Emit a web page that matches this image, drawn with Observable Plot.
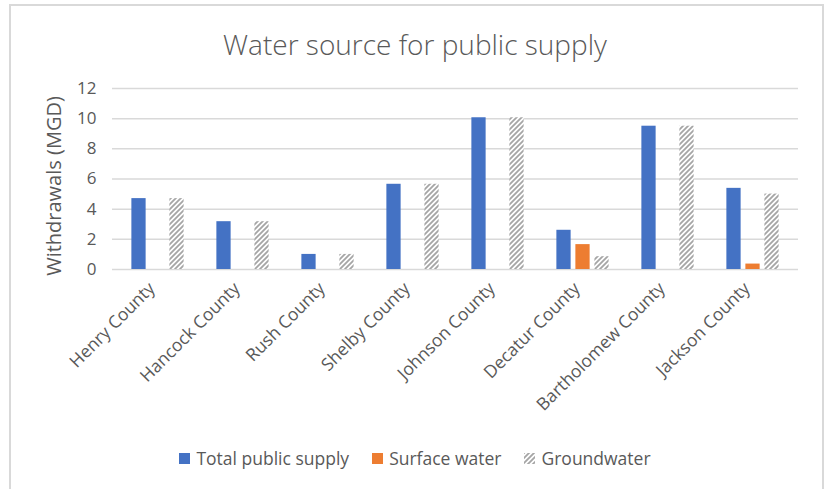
<!DOCTYPE html>
<html><head><meta charset="utf-8">
<script src="https://cdn.jsdelivr.net/npm/d3@7"></script>
<script src="https://cdn.jsdelivr.net/npm/@observablehq/plot@0.6"></script>
<style>
body{margin:0;background:#fff;font-family:"Open Sans",sans-serif;}
#wrap{position:relative;width:830px;height:489px;overflow:hidden;background:#fff;}
#frame{position:absolute;left:9px;top:4px;width:815px;height:520px;border:2px solid #d9d9d9;box-sizing:border-box;}
#title{position:absolute;left:0;width:830px;top:25px;text-align:center;font-size:28px;color:#595959;font-weight:300;line-height:38px;}
#chart{position:absolute;left:0;top:0;}
#legend{position:absolute;top:446px;left:0;width:830px;display:flex;justify-content:center;align-items:center;font-size:17.5px;color:#595959;line-height:24px;}
.item{display:flex;align-items:center;margin:0 11.5px;}
.sw{width:11px;height:11px;margin-right:6px;display:inline-block;}
#defs{position:absolute;width:0;height:0;}
</style></head>
<body>
<svg id="defs" width="0" height="0"><defs>
<pattern id="hatch" patternUnits="userSpaceOnUse" width="5" height="5">
<rect width="5" height="5" fill="#fff"/>
<path d="M-1,1 l2,-2 M0,5 l5,-5 M4,6 l2,-2" stroke="#a5a5a5" stroke-width="1.8"/>
</pattern></defs></svg>
<div id="wrap">
<div id="frame"></div>
<div id="title">Water source for public supply</div>
<div id="chart"></div>
<div id="legend"></div>
</div>
<script>
const counties = ["Henry County", "Hancock County", "Rush County", "Shelby County", "Johnson County", "Decatur County", "Bartholomew County", "Jackson County"];
const seriesNames = ["Total public supply", "Surface water", "Groundwater"];
const totalSupply = [4.7, 3.17, 1.0, 5.65, 10.06, 2.6, 9.5, 5.38];
const surfaceWater = [0, 0, 0, 0, 0, 1.65, 0, 0.36];
const groundwater = [4.7, 3.17, 1.0, 5.65, 10.06, 0.85, 9.5, 5.0];
const yTicks = [0, 2, 4, 6, 8, 10, 12];
const seriesColors = ["#4472C4", "#ED7D31", "url(#hatch)"];

const seriesValues = [totalSupply, surfaceWater, groundwater];
const rows = [];
counties.forEach((c, i) => seriesNames.forEach((s, j) => rows.push({county: c, series: s, value: seriesValues[j][i]})));

const barW = 15, step = 19;
const plot = Plot.plot({
  width: 830, height: 430,
  marginLeft: 112, marginRight: 32, marginTop: 88, marginBottom: 161,
  style: {fontFamily: "Open Sans", fontSize: "16px", color: "#595959", background: "transparent"},
  x: {domain: counties, padding: 0, label: null},
  y: {domain: [0, 12], label: null},
  marks: [
    Plot.gridY(yTicks, {stroke: "#d9d9d9", strokeOpacity: 1, strokeWidth: 1.5}),
    ...seriesNames.map((s, j) => Plot.barY(rows.filter(d => d.series === s && d.value > 0), {
      x: "county", y: "value", fill: seriesColors[j],
      insetLeft: (85.75 - barW) / 2, insetRight: (85.75 - barW) / 2, dx: (j - 1) * step
    })),
    Plot.axisX({tickRotate: -45, tickSize: 0, tickPadding: 10, dx: -6, dy: 6, fontSize: 17.5, fill: "#595959"}),
    Plot.axisY(yTicks, {tickSize: 0, tickPadding: 16, fontSize: 17, fill: "#595959", label: null}),
    Plot.text(["Withdrawals (MGD)"], {frameAnchor: "left", textAnchor: "middle", rotate: -90, dx: -58, dy: 7, fontSize: 20, fill: "#595959"})
  ]
});
document.getElementById("chart").appendChild(plot);

const legend = document.getElementById("legend");
seriesNames.forEach((s, j) => {
  const it = document.createElement("div");
  it.className = "item";
  const sw = j === 2
    ? `<svg class="sw" width="11" height="11"><rect width="11" height="11" fill="url(#hatch)"/></svg>`
    : `<span class="sw" style="background:${seriesColors[j]}"></span>`;
  it.innerHTML = sw + `<span>${s}</span>`;
  legend.appendChild(it);
});
</script>
</body></html>
